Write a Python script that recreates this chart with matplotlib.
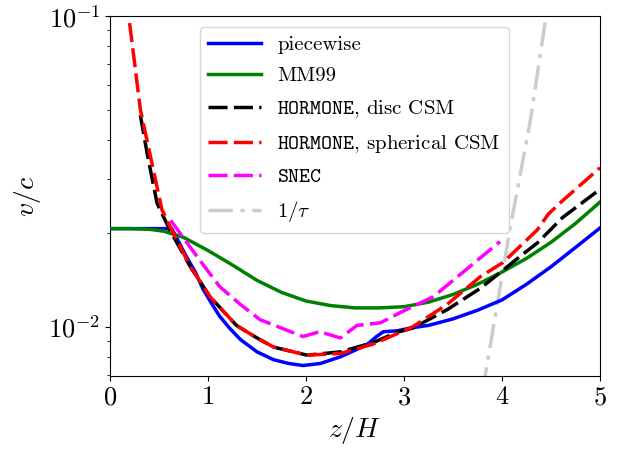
import numpy as np
import matplotlib
matplotlib.use("Agg")
import matplotlib.pyplot as plt

plt.rcParams['font.family'] = 'serif'
plt.rcParams['font.serif'] = ['cmr10']
plt.rcParams['mathtext.fontset'] = 'cm'
plt.rcParams['axes.formatter.use_mathtext'] = True

# piecewise model
z_pw = [0.0, 0.3, 0.63, 0.7, 0.78, 0.87, 0.95, 1.05, 1.12, 1.22, 1.33, 1.5,
        1.67, 1.82, 1.97, 2.15, 2.35, 2.5, 2.62, 2.72, 2.79, 2.93, 3.06, 3.25,
        3.5, 3.75, 4.0, 4.25, 4.5, 4.75, 5.0]
v_pw = [0.0207, 0.0207, 0.0207, 0.0188, 0.0168, 0.0150, 0.0132, 0.0117,
        0.0108, 0.0099, 0.0091, 0.0083, 0.00783, 0.00762, 0.0075, 0.00762,
        0.0080, 0.0084, 0.00875, 0.0093, 0.00964, 0.0097, 0.0099, 0.0101,
        0.0106, 0.0113, 0.0122, 0.0137, 0.0156, 0.0180, 0.0208]

# MM99
z_mm = [0.0, 0.2, 0.4, 0.55, 0.75, 1.0, 1.25, 1.5, 1.75, 2.0, 2.25, 2.5,
        2.75, 3.0, 3.25, 3.5, 3.75, 4.0, 4.25, 4.5, 4.75, 5.0]
v_mm = [0.0207, 0.0207, 0.0206, 0.0203, 0.0194, 0.0176, 0.0158, 0.0141,
        0.0129, 0.0121, 0.0117, 0.0115, 0.0115, 0.0116, 0.0120, 0.0127,
        0.0137, 0.0150, 0.0166, 0.0187, 0.0215, 0.0252]

# HORMONE, disc CSM
z_disc = [0.31, 0.38, 0.48, 0.61, 0.82, 1.02, 1.29, 1.5, 1.67, 2.01, 2.35,
          2.69, 2.93, 3.09, 3.44, 3.78, 4.01, 4.2, 4.36, 4.62, 5.0]
v_disc = [0.048, 0.036, 0.025, 0.0205, 0.0156, 0.0125, 0.0101, 0.0092, 0.0086,
          0.0081, 0.0083, 0.0089, 0.0096, 0.0099, 0.01135, 0.0133, 0.0152,
          0.0170, 0.0186, 0.0225, 0.0277]

# HORMONE, spherical CSM
z_sph = [0.2, 0.31, 0.42, 0.53, 0.63, 0.82, 1.02, 1.29, 1.5, 1.67, 2.01, 2.35,
         2.69, 2.93, 3.09, 3.44, 3.78, 4.01, 4.36, 4.47, 4.59, 5.0]
v_sph = [0.095, 0.05, 0.0345, 0.0238, 0.0205, 0.0156, 0.0125, 0.0101, 0.0092,
         0.0086, 0.0081, 0.0082, 0.0088, 0.0095, 0.0100, 0.0118, 0.0145,
         0.0161, 0.0205, 0.0230, 0.0250, 0.0325]

# SNEC
z_snec = [0.62, 0.89, 1.12, 1.33, 1.53, 1.97, 2.14, 2.35, 2.52, 2.76, 2.96,
          3.3, 3.98]
v_snec = [0.022, 0.0168, 0.01345, 0.0118, 0.01054, 0.0093, 0.00964, 0.0092,
          0.0101, 0.0103, 0.0111, 0.0125, 0.0188]

# 1/tau
z_tau = [3.80, 3.83, 4.08, 4.29, 4.45, 4.5]
v_tau = [0.0062, 0.0070, 0.0205, 0.0463, 0.100, 0.12]

fig = plt.figure(figsize=(6.25, 4.49), dpi=100)
ax = fig.add_axes([0.176, 0.163, 0.784, 0.801])

lw = 2.5
dash = (0, (5.5, 1.8))
ax.plot(z_pw, v_pw, '-', color='blue', lw=lw, label='piecewise', zorder=3)
ax.plot(z_mm, v_mm, '-', color='green', lw=lw, label='MM99', zorder=3)
ax.plot(z_disc, v_disc, linestyle=dash, color='black', lw=lw,
        label=r'$\mathtt{HORMONE}$, disc CSM', zorder=3)
ax.plot(z_sph, v_sph, linestyle=dash, color='red', lw=lw,
        label=r'$\mathtt{HORMONE}$, spherical CSM', zorder=3)
ax.plot(z_snec, v_snec, linestyle=dash, color='magenta', lw=lw,
        label=r'$\mathtt{SNEC}$', zorder=3)
ax.plot(z_tau, v_tau, linestyle=(0, (7, 2.2, 1.2, 2.2)), color='#cccccc',
        lw=lw, label=r'$1/\tau$', zorder=2)

ax.set_yscale('log')
ax.set_xlim(0, 5)
ax.set_ylim(0.00695, 0.1)
ax.set_xlabel(r'$z/H$', fontsize=20)
ax.set_ylabel(r'$v/c$', fontsize=20)
ax.yaxis.set_label_coords(-0.137, 0.5)
ax.tick_params(labelsize=19)

ax.legend(loc='upper left', bbox_to_anchor=(0.184, 0.97), borderaxespad=0,
          fontsize=15, handlelength=2.5, labelspacing=0.62,
          framealpha=0.8)

fig.savefig('out.png', dpi=100)
